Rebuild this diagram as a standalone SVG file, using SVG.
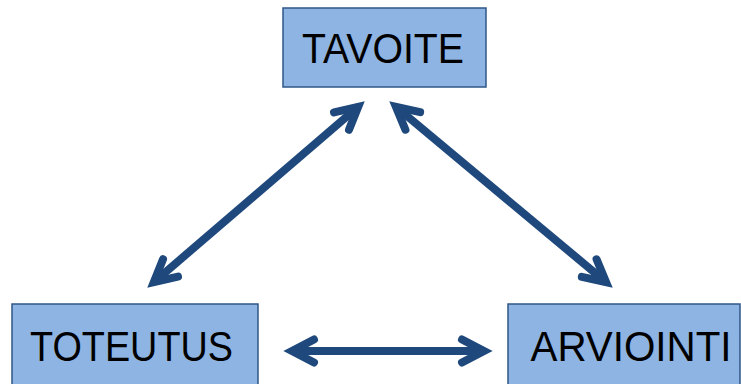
<svg xmlns="http://www.w3.org/2000/svg" width="741" height="384" viewBox="0 0 741 384">
<style>
.box{fill:#8EB4E3;stroke:#2F5587;stroke-width:1.5}
.lbl{font-family:"Liberation Sans",Arial,sans-serif;font-size:43px;fill:#000;text-anchor:middle}
.conn{stroke:#1F497D;stroke-width:8;fill:none;marker-start:url(#ah);marker-end:url(#ah)}
</style>
<defs>
<marker id="ah" markerUnits="userSpaceOnUse" orient="auto-start-reverse" refX="0" refY="0" markerWidth="60" markerHeight="60" viewBox="-40 -30 60 60" overflow="visible">
<path d="M-22,-11.5 L0,0 L-22,11.5" fill="none" stroke="#1F497D" stroke-width="8" stroke-linejoin="miter" stroke-linecap="round"/>
</marker>
</defs>
<rect width="741" height="384" fill="#fff"/>
<g id="connectors">
<line class="conn" x1="153.8" y1="282.2" x2="358.2" y2="106.8"/>
<line class="conn" x1="395.9" y1="106.8" x2="606.1" y2="282.2"/>
<line class="conn" x1="292" y1="351" x2="484" y2="351"/>
</g>
<g id="tavoite">
<rect class="box" x="283" y="8" width="203" height="79"/>
<text class="lbl" x="383" y="63" textLength="162" lengthAdjust="spacingAndGlyphs">TAVOITE</text>
</g>
<g id="toteutus">
<rect class="box" x="12" y="304" width="246" height="100"/>
<text class="lbl" x="131.5" y="361" textLength="203" lengthAdjust="spacingAndGlyphs">TOTEUTUS</text>
</g>
<g id="arviointi">
<rect class="box" x="508" y="304" width="232" height="100"/>
<text class="lbl" x="631" y="361" textLength="201" lengthAdjust="spacingAndGlyphs">ARVIOINTI</text>
</g>
</svg>
